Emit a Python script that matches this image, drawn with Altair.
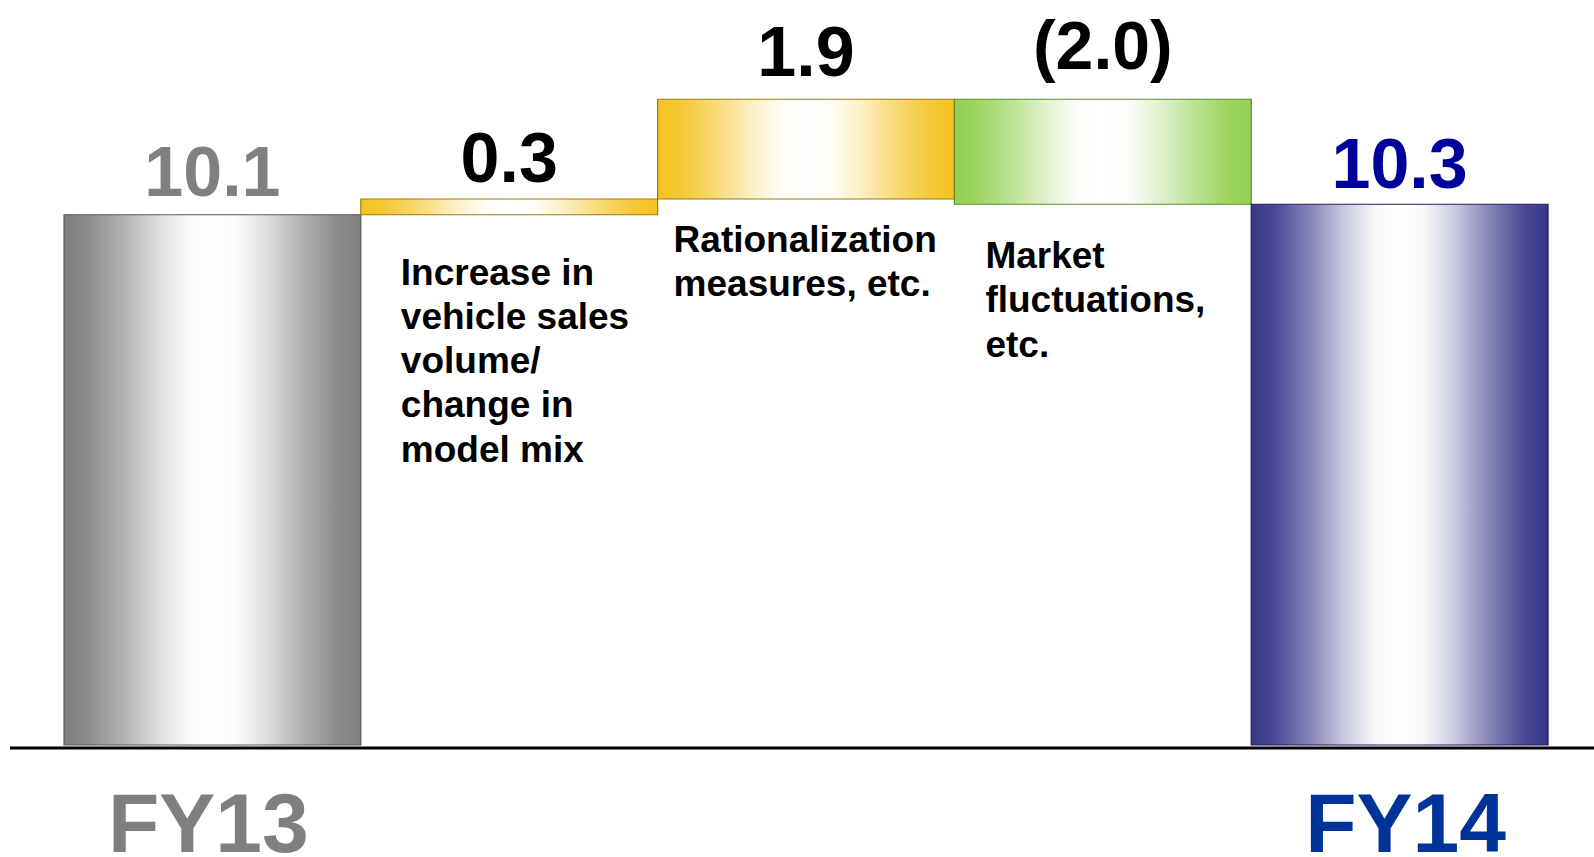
import altair as alt
import pandas as pd

# Operating income bridge, FY13 -> FY14
keys = ["FY13", "volume", "rational", "market", "FY14"]
values = [10.1, 0.3, 1.9, -2.0, 10.3]
kinds = ["total", "step", "step", "step", "total"]
value_labels = ["10.1", "0.3", "1.9", "(2.0)", "10.3"]
axis_labels = ["FY13", "", "", "", "FY14"]
notes = [
    "",
    "Increase in\nvehicle sales\nvolume/\nchange in\nmodel mix",
    "Rationalization\nmeasures, etc.",
    "Market\nfluctuations,\netc.",
    "",
]

# waterfall start / end for each bar
rows = []
running = 0.0
for k, v, kind, vl, al, nt in zip(keys, values, kinds, value_labels, axis_labels, notes):
    if kind == "total":
        start, end = 0.0, v
        running = v
    else:
        start, end = running, running + v
        running = end
    rows.append(dict(key=k, start=start, end=end, top=max(start, end),
                     low=min(start, end), label=vl, axis_label=al, note=nt))
df = pd.DataFrame(rows)

W, H = 1594, 857
FONT = "'Liberation Sans', Arial, Helvetica, sans-serif"

x_scale = alt.Scale(domain=keys, paddingInner=0, paddingOuter=0.1853, align=0.582)
y_scale = alt.Scale(domain=[-2.133, 14.19], nice=False, zero=False)
X = alt.X("key:N", sort=keys, scale=x_scale, axis=None)


def mix(hex_color, w):
    """Blend a colour with white; w=1 gives the colour, w=0 white."""
    h = hex_color.lstrip("#")
    r, g, b = (int(h[i:i + 2], 16) for i in (0, 2, 4))
    r = round(255 + (r - 255) * w)
    g = round(255 + (g - 255) * w)
    b = round(255 + (b - 255) * w)
    return f"#{r:02x}{g:02x}{b:02x}"


PROFILE = [(0, 1), (0.08, 0.9), (0.2, 0.6), (0.32, 0.25), (0.42, 0.03),
           (0.5, 0), (0.58, 0.03), (0.68, 0.25), (0.8, 0.6), (0.92, 0.9), (1, 1)]


def shine(edge):
    return alt.LinearGradient(
        gradient="linear", x1=0, x2=1, y1=0, y2=0,
        stops=[alt.GradientStop(color=mix(edge, w), offset=o) for o, w in PROFILE],
    )


base = alt.Chart(df)

bar_styles = [
    (["FY13"], "#7f7f7f", "#595959"),
    (["volume", "rational"], "#f4c220", "#9c7c10"),
    (["market"], "#92d050", "#5e8b2e"),
    (["FY14"], "#363687", "#1f1f5a"),
]

layers = []
for ks, edge, border in bar_styles:
    layers.append(
        base.transform_filter(alt.FieldOneOfPredicate(field="key", oneOf=ks))
        .mark_bar(fill=shine(edge), stroke=border, strokeWidth=1.2)
        .encode(x=X, y=alt.Y("start:Q", scale=y_scale, axis=None), y2="end:Q")
    )

# baseline
layers.append(
    base.transform_filter(alt.datum.key == "FY13")
    .mark_rule(color="black", strokeWidth=3, yOffset=3)
    .encode(x=alt.value(10), x2=alt.value(W), y=alt.datum(0, scale=y_scale))
)

# value labels above the bars
label_styles = {
    "FY13": dict(color="#808080", size=70, dy=-19),
    "volume": dict(color="black", size=70, dy=-17),
    "rational": dict(color="black", size=70, dy=-23),
    "market": dict(color="black", size=68, dy=-30),
    "FY14": dict(color="#00009a", size=70, dy=-16),
}
for k, st in label_styles.items():
    layers.append(
        base.transform_filter(alt.datum.key == k)
        .mark_text(font=FONT, fontWeight="bold", fontSize=st["size"], color=st["color"],
                   baseline="alphabetic", align="center", dy=st["dy"])
        .encode(x=X, y=alt.Y("top:Q", scale=y_scale), text="label:N")
    )

# explanatory notes under the step bars
note_styles = {
    "volume": dict(dx=40, dy=70),
    "rational": dict(dx=16, dy=53),
    "market": dict(dx=31, dy=64),
}
for k, st in note_styles.items():
    layers.append(
        base.transform_filter(alt.datum.key == k)
        .mark_text(font=FONT, fontWeight="bold", fontSize=37, color="black",
                   align="left", baseline="alphabetic", lineBreak="\n", lineHeight=44.2,
                   dx=st["dx"], dy=st["dy"])
        .encode(x=alt.X("key:N", sort=keys, scale=x_scale, axis=None, bandPosition=0),
                y=alt.Y("low:Q", scale=y_scale), text="note:N")
    )

# period labels under the baseline
period_styles = {"FY13": ("#7f7f7f", -4), "FY14": ("#003399", 6)}
for k, (col, dx) in period_styles.items():
    layers.append(
        base.transform_filter(alt.datum.key == k)
        .mark_text(font=FONT, fontWeight="bold", fontSize=84, color=col,
                   align="center", baseline="alphabetic", dx=dx, dy=107)
        .encode(x=X, y=alt.datum(0, scale=y_scale), text="axis_label:N")
    )

chart = (
    alt.layer(*layers)
    .properties(width=W, height=H, padding=0, autosize=alt.AutoSizeParams(type="none"),
                background="white")
    .configure_view(stroke=None)
)

chart.save("out.html", embed_options={"renderer": "svg", "actions": False})
